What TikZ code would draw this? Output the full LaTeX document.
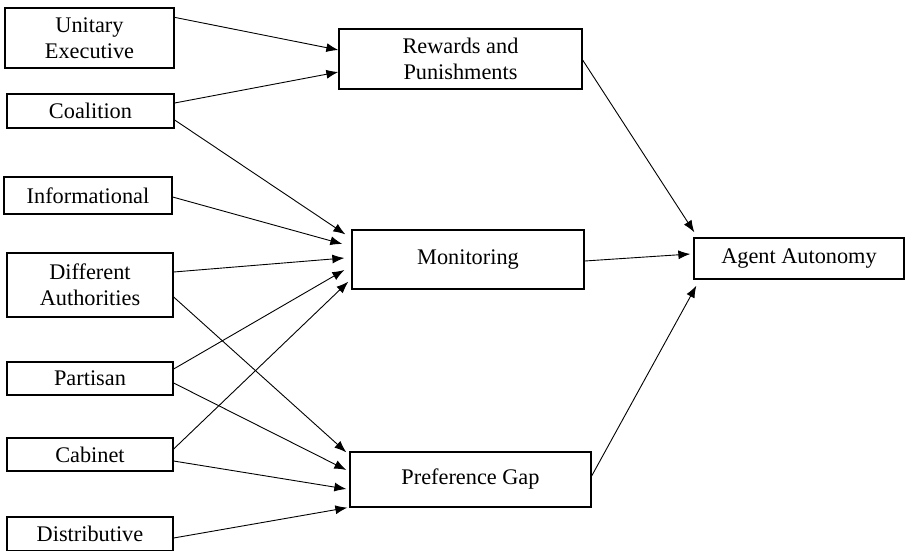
\documentclass[tikz,border=0pt]{standalone}
\usepackage{fontspec}
\setmainfont{Liberation Serif}
\usetikzlibrary{arrows.meta}
\begin{document}
\begin{tikzpicture}[x=1pt,y=1pt,
  box/.style={draw,line width=1.3pt,inner sep=0pt,align=center,
    font=\fontsize{22.3}{25.5}\selectfont},
  arr/.style={line width=0.9pt,-{Latex[length=12pt,width=9pt]}}]
\clip (0,0) rectangle (906,-550);
\path[use as bounding box] (0,0) rectangle (906,-550);
% left column
\node[box,minimum width=169pt,minimum height=60pt] (ue) at (89.5,-38) {Unitary\\Executive};
\node[box,minimum width=167pt,minimum height=34pt] (co) at (90.5,-111) {Coalition};
\node[box,minimum width=168pt,minimum height=37pt] (in) at (88,-195.5) {Informational};
\node[box,minimum width=166pt,minimum height=64pt] (da) at (90,-285) {Different\\Authorities};
\node[box,minimum width=166pt,minimum height=33pt] (pa) at (90,-378.5) {Partisan};
\node[box,minimum width=166pt,minimum height=33pt] (ca) at (90,-454.5) {Cabinet};
\node[box,minimum width=166pt,minimum height=34pt] (di) at (90,-534) {Distributive};
% middle column
\node[box,minimum width=243pt,minimum height=60pt] (rp) at (460.5,-59) {Rewards and\\Punishments};
\node[box,minimum width=232pt,minimum height=59pt] (mo) at (468,-259.5) {Monitoring};
\node[box,minimum width=241pt,minimum height=55pt] (pg) at (470.5,-479.5) {Preference Gap};
% right
\node[box,minimum width=210pt,minimum height=41pt] (aa) at (799,-258.5) {Agent Autonomy};
% arrows to Rewards
\draw[arr] ([yshift=-10pt]ue.north east) -- ([yshift=9pt]rp.west);
\draw[arr] ([yshift=8pt]co.east) -- ([yshift=-13pt]rp.west);
% arrows to Monitoring
\draw[arr] ([yshift=-9pt]co.east) -- ([xshift=-6pt,yshift=-5pt]mo.north west);
\draw[arr] ([yshift=-1.5pt]in.east) -- ([xshift=-9pt,yshift=15.5pt]mo.west);
\draw[arr] ([yshift=13pt]da.east) -- ([xshift=-7pt,yshift=1.5pt]mo.west);
\draw[arr] ([yshift=9.5pt]pa.east) -- ([xshift=-7pt,yshift=-10.5pt]mo.west);
\draw[arr] ([yshift=5.5pt]ca.east) -- ([xshift=-3pt,yshift=8pt]mo.south west);
% arrows to Preference Gap
\draw[arr] ([yshift=-12pt]da.east) -- ([xshift=-3pt,yshift=-1pt]pg.north west);
\draw[arr] ([yshift=-4.5pt]pa.east) -- ([xshift=-3pt,yshift=9.5pt]pg.west);
\draw[arr] ([yshift=-6.5pt]ca.east) -- ([xshift=-3pt,yshift=-9.5pt]pg.west);
\draw[arr] ([yshift=-4pt]di.east) -- ([xshift=-2pt,yshift=0pt]pg.south west);
% arrows to Agent Autonomy
\draw[arr] ([yshift=-1pt]rp.east) -- ([xshift=1pt,yshift=5pt]aa.north west);
\draw[arr] ([yshift=-1.5pt]mo.east) -- ([xshift=-3pt,yshift=4.5pt]aa.west);
\draw[arr] ([yshift=3.5pt]pg.east) -- ([xshift=3pt,yshift=-6pt]aa.south west);
\end{tikzpicture}
\end{document}
